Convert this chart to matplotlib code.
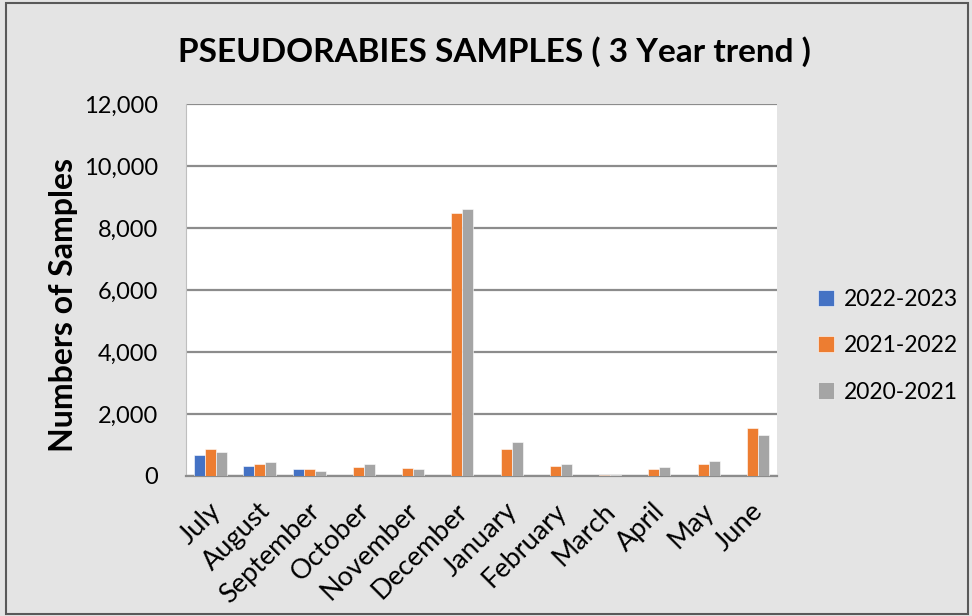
import matplotlib.pyplot as plt
import matplotlib.transforms as mtransforms
import numpy as np
from matplotlib.patches import Rectangle
from matplotlib.ticker import FuncFormatter

plt.rcParams["font.family"] = ["Lato", "DejaVu Sans"]

months = ["July", "August", "September", "October", "November", "December",
          "January", "February", "March", "April", "May", "June"]
series_names = ["2022-2023", "2021-2022", "2020-2021"]
fy_2022_2023 = [668, 323, 237, 0, 0, 0, 0, 0, 0, 0, 0, 0]
fy_2021_2022 = [871, 398, 237, 290, 258, 8484, 881, 323, 20, 226, 398, 1548]
fy_2020_2021 = [774, 462, 172, 377, 226, 8603, 1097, 398, 30, 290, 484, 1312]
colors = ["#4472C4", "#ED7D31", "#A5A5A5"]

bg = "#E4E4E4"
fig = plt.figure(figsize=(9.72, 6.16), dpi=100, facecolor=bg)
fig.patches.append(Rectangle((0.006, 0.004), 0.990, 0.991, transform=fig.transFigure,
                             fill=False, edgecolor="#595959", linewidth=1.5))

W, H = 972, 616
ax = fig.add_axes([186 / W, 1 - 476 / H, (777 - 186) / W, (476 - 104) / H])
ax.set_facecolor("white")

x = np.arange(len(months))
bw = 0.225
for i, (name, vals) in enumerate(zip(series_names, [fy_2022_2023, fy_2021_2022, fy_2020_2021])):
    ax.bar(x + (i - 1) * bw, vals, width=bw, color=colors[i], label=name,
           edgecolor="white", linewidth=0.4, zorder=3)

ax.set_xlim(-0.5, 11.5)
ax.set_ylim(0, 12000)
ax.set_yticks(range(0, 12001, 2000))
ax.yaxis.set_major_formatter(FuncFormatter(lambda v, p: f"{int(v):,}"))
ax.grid(axis="y", color="#8C8C8C", linewidth=1.6, zorder=0)
ax.tick_params(axis="both", length=0, colors="black")
ax.tick_params(axis="y", pad=20, labelsize=17)
ax.tick_params(axis="x", pad=16)
ax.set_xticks(x)
ax.set_xticklabels(months, rotation=45, ha="right", va="top", rotation_mode="anchor",
                   fontsize=19.5)
# nudge the rotated month labels a little, like the source chart
shift = mtransforms.ScaledTranslation(-2 / 100, 0, fig.dpi_scale_trans)
for lbl in ax.get_xticklabels():
    lbl.set_transform(lbl.get_transform() + shift)
for s in ["top", "right"]:
    ax.spines[s].set_visible(False)
ax.spines["left"].set_color("#BFBFBF")
ax.spines["bottom"].set_color("#8C8C8C")
ax.spines["bottom"].set_linewidth(1.6)

fig.text(64 / W, 1 - 305 / H, "Numbers of Samples", rotation=90, ha="center", va="center",
         fontsize=23, fontweight="bold")
fig.text(494 / W, 1 - 52 / H, "PSEUDORABIES SAMPLES ( 3 Year trend )", ha="center",
         va="center", fontsize=24, fontweight="bold")

ax.legend(loc="center left", bbox_to_anchor=(1.035, 0.35), frameon=False, fontsize=16.5,
          handlelength=0.7, handleheight=0.7, handletextpad=0.4, labelspacing=1.1)

fig.savefig("out.png", dpi=100, facecolor=bg)
